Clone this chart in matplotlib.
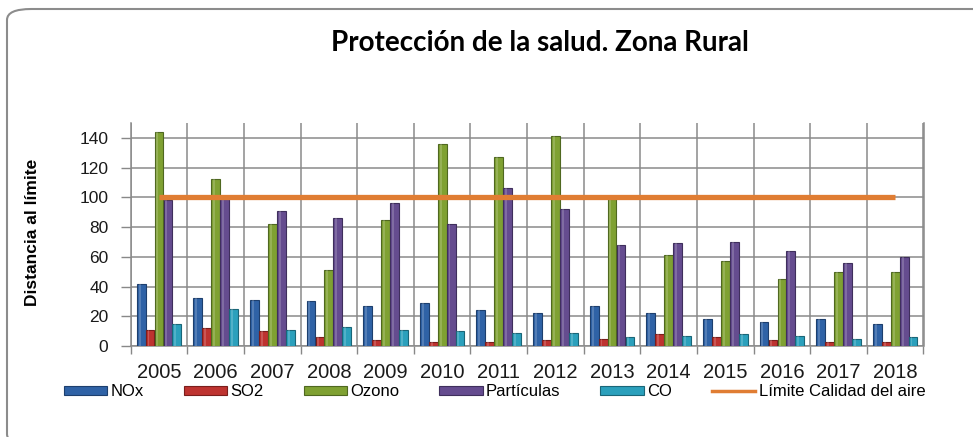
import matplotlib
matplotlib.use("Agg")
import matplotlib.pyplot as plt
from matplotlib.patches import FancyBboxPatch, Patch
from matplotlib.lines import Line2D
import numpy as np

years = ['2005', '2006', '2007', '2008', '2009', '2010', '2011',
         '2012', '2013', '2014', '2015', '2016', '2017', '2018']
nox = [42, 32, 31, 30, 27, 29, 24, 22, 27, 22, 18, 16, 18, 15]
so2 = [11, 12, 10, 6, 4, 3, 3, 4, 5, 8, 6, 4, 3, 3]
ozono = [144, 112, 82, 51, 85, 136, 127, 141, 99, 61, 57, 45, 50, 50]
particulas = [98, 99, 91, 86, 96, 82, 106, 92, 68, 69, 70, 64, 56, 60]
co = [15, 25, 11, 13, 11, 10, 9, 9, 6, 7, 8, 7, 5, 6]
limite = [100] * len(years)

series = [('NOx', nox, '#2F62A6', '#1D3F6E'),
          ('SO2', so2, '#BE3330', '#7A1E1C'),
          ('Ozono', ozono, '#7FA132', '#4F6820'),
          ('Partículas', particulas, '#654C8F', '#3F2F5C'),
          ('CO', co, '#2BA0BC', '#1A6678')]

font = 'Liberation Sans'
W, H = 973, 437
fig = plt.figure(figsize=(W / 100, H / 100), dpi=100)

# rounded frame around the chart
frame = FancyBboxPatch((7 / W, 1 - 445 / H), 990 / W, 436 / H,
                       boxstyle='round,pad=0,rounding_size=0.025',
                       transform=fig.transFigure, fill=False,
                       edgecolor='#8C8C8C', linewidth=1.5, clip_on=False)
fig.patches.append(frame)

ax = fig.add_axes([130.7 / W, 1 - 346 / H, 792.8 / W, 223 / H])

x = np.arange(len(years))
bw = 0.156
for i, (name, vals, fc, ec) in enumerate(series):
    ax.bar(x + (i - 2) * 0.158, vals, width=bw, color=fc, edgecolor=ec,
           linewidth=0.8, zorder=3)
    # light strip to hint the glossy bars of the original
    ax.bar(x + (i - 2) * 0.158 - bw * 0.18, vals, width=bw * 0.22,
           color='white', alpha=0.18, linewidth=0, zorder=3.5)

ax.plot(x, limite, color='#E07D33', linewidth=3.8, zorder=4,
        solid_capstyle='butt')

ax.set_xlim(-0.5, len(years) - 0.5)
ax.set_ylim(0, 150)
ax.set_yticks(range(0, 141, 20))
ax.set_xticks(x)
ax.set_xticklabels(years, fontsize=14.5, family=font, color='#1A1A1A')
ax.set_xticks(np.arange(-0.5, len(years)), minor=True)

ax.tick_params(axis='x', which='major', length=0, pad=12)
ax.tick_params(axis='x', which='minor', length=6, color='#888888', width=1)
ax.tick_params(axis='y', length=7, color='#888888', width=1, pad=9,
               labelsize=12.5, labelcolor='#1A1A1A')
for lab in ax.get_yticklabels():
    lab.set_family(font)

ax.grid(axis='y', color='#8A8A8A', linewidth=1.1, zorder=0)
ax.grid(axis='x', which='minor', color='#8A8A8A', linewidth=1.1, zorder=0)
ax.spines['top'].set_visible(False)
for s in ['left', 'bottom', 'right']:
    ax.spines[s].set_color('#8A8A8A')
    ax.spines[s].set_linewidth(1.1)

fig.text(540 / W, 1 - 43 / H, 'Protección de la salud. Zona Rural',
         ha='center', va='center', fontsize=20, fontweight='bold',
         family='Lato')
fig.text(33 / W, 1 - 232 / H, 'Distancia al límite', rotation=90,
         ha='center', va='center', fontsize=12.5, fontweight='bold',
         family=font)

handles = [Patch(facecolor=fc, edgecolor=ec, linewidth=0.8)
           for _, _, fc, ec in series]
handles.append(Line2D([0], [0], color='#E07D33', linewidth=2.5))
labels = [s[0] for s in series] + ['Límite Calidad del aire']
fig.legend(handles, labels, loc='center', ncol=6,
           bbox_to_anchor=(494.5 / W, 1 - 392 / H), frameon=False,
           prop={'family': font, 'size': 12}, handlelength=2.6,
           handleheight=0.5, handletextpad=0.2, columnspacing=2.4,
           borderpad=0.2)

fig.savefig('out.png', dpi=100)
